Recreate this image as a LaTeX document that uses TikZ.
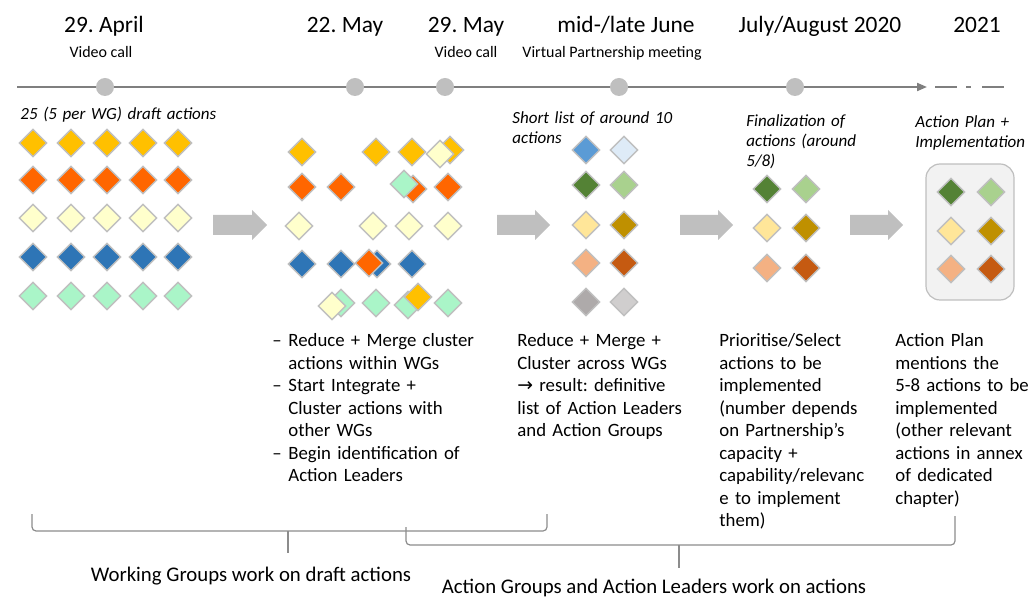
\documentclass[tikz,border=0pt]{standalone}
\usepackage{fontspec}
\setmainfont{Carlito}
\newfontfamily\symfont{DejaVu Sans}
\usetikzlibrary{shapes.geometric,arrows.meta}
\frenchspacing

\definecolor{cyel}{HTML}{FFC000}
\definecolor{corg}{HTML}{FF6600}
\definecolor{clyel}{HTML}{FFFFCC}
\definecolor{cblu}{HTML}{2E75B6}
\definecolor{clgrn}{HTML}{AAF5C8}
\definecolor{cmblu}{HTML}{5B9BD5}
\definecolor{cpblu}{HTML}{DEEBF7}
\definecolor{cdgrn}{HTML}{548235}
\definecolor{csgrn}{HTML}{A9D18E}
\definecolor{ccream}{HTML}{FFE699}
\definecolor{cgold}{HTML}{BF9000}
\definecolor{cpeach}{HTML}{F4B183}
\definecolor{crust}{HTML}{C55A11}
\definecolor{cdgry}{HTML}{AEAAAA}
\definecolor{clgry}{HTML}{D0CECE}
\definecolor{edgegray}{HTML}{BFBFBF}
\definecolor{linegray}{HTML}{7F7F7F}
\definecolor{bracegray}{HTML}{8C8C8C}
\definecolor{boxfill}{HTML}{F2F2F2}

\begin{document}
\begin{tikzpicture}[x=0.5pt, y=-0.5pt,
  act/.style={diamond, draw=edgegray, line width=0.7pt, inner sep=0pt, minimum size=14pt},
  dot/.style={circle, fill=edgegray, inner sep=0pt, minimum size=9pt},
  date/.style={anchor=base, inner sep=0pt, font=\fontsize{11.7}{14}\selectfont},
  sub/.style={anchor=base, inner sep=0pt, font=\fontsize{8}{10}\selectfont},
  head/.style={anchor=base west, inner sep=0pt, text width=70pt, align=left, font=\fontsize{8.5}{10}\selectfont\itshape},
  body/.style={anchor=base west, inner sep=0pt, text width=110pt, align=left, font=\fontsize{9.4}{11.25}\selectfont},
  foot/.style={anchor=base, inner sep=0pt, font=\fontsize{10.4}{12}\selectfont},
  bigarrow/.style={fill=edgegray},
  brace/.style={draw=bracegray, line width=0.6pt, rounded corners=2pt}]
  \useasboundingbox (0,0) rectangle (1033,598);

  % timeline
  \coordinate (tls) at (17,87);
  \coordinate (tle) at (927,87);
  \coordinate (dds) at (935,87);
  \coordinate (dde) at (1008,87);
  \draw[linegray, line width=1pt, -{Triangle[length=5pt, width=4pt]}] (tls) -- (tle);
  \draw[linegray, line width=1pt, dash pattern=on 11pt off 4.5pt on 2.5pt off 5.5pt] (dds) -- (dde);
  \node[dot] (t1) at (105,87) {};
  \node[dot] (t2) at (355,87) {};
  \node[dot] (t3) at (445,87) {};
  \node[dot] (t4) at (619,87) {};
  \node[dot] (t5) at (795,87) {};

  \node[date] (d1) at (104,33) {29. April};
  \node[date] (d2) at (345,33) {22. May};
  \node[date] (d3) at (466,33) {29. May};
  \node[date] (d4) at (626,33) {mid-/late June};
  \node[date] (d5) at (820,33) {July/August 2020};
  \node[date] (d6) at (977,33) {2021};
  \node[sub] (s1) at (101,58) {Video call};
  \node[sub] (s3) at (466,58) {Video call};
  \node[sub] (s4) at (612,58) {Virtual Partnership meeting};

  % stage labels
  \node[head, text width=120pt] (h1) at (20,120) {25 (5 per WG) draft actions};
  \node[head, text width=90pt] (h2) at (512,124) {Short list of around 10\\actions};
  \node[head] (h3) at (746,127) {Finalization of\\actions (around\\5/8)};
  \node[head] (h4) at (915,128) {Action Plan +\\Implementation};

  % draft actions
  \foreach \r/\y/\col in {1/143/cyel, 2/180/corg, 3/218/clyel, 4/257/cblu, 5/296/clgrn}
    \foreach \c/\x in {1/33, 2/71, 3/107, 4/143, 5/178}
      \node[act, fill=\col] (a\r\c) at (\x,\y) {};

  % reduced and merged
  \node[act, fill=cyel] (b11) at (302,152) {};
  \node[act, fill=cyel] (b12) at (376,152) {};
  \node[act, fill=cyel] (b13) at (412,152) {};
  \node[act, fill=cyel] (b14) at (450,150) {};
  \node[act, fill=clyel] (b15) at (440,154) {};
  \node[act, fill=corg] (b21) at (302,187) {};
  \node[act, fill=corg] (b22) at (341,187) {};
  \node[act, fill=corg] (b23) at (413,189) {};
  \node[act, fill=clgrn] (b24) at (404,184) {};
  \node[act, fill=corg] (b25) at (448,187) {};
  \node[act, fill=clyel] (b31) at (299,226) {};
  \node[act, fill=clyel] (b32) at (373,226) {};
  \node[act, fill=clyel] (b33) at (409,226) {};
  \node[act, fill=clyel] (b34) at (448,226) {};
  \node[act, fill=cblu] (b41) at (302,264) {};
  \node[act, fill=cblu] (b42) at (341,264) {};
  \node[act, fill=cblu] (b43) at (377,264) {};
  \node[act, fill=corg] (b44) at (369,263) {};
  \node[act, fill=cblu] (b45) at (412,264) {};
  \node[act, fill=clgrn] (b51) at (341,303) {};
  \node[act, fill=clyel] (b52) at (332,306) {};
  \node[act, fill=clgrn] (b53) at (376,303) {};
  \node[act, fill=clgrn] (b54) at (408,305) {};
  \node[act, fill=cyel] (b55) at (418,297) {};
  \node[act, fill=clgrn] (b56) at (448,303) {};

  % short list
  \node[act, fill=cmblu] (c11) at (586,150) {};
  \node[act, fill=cpblu] (c12) at (624,150) {};
  \node[act, fill=cdgrn] (c21) at (586,185) {};
  \node[act, fill=csgrn] (c22) at (624,185) {};
  \node[act, fill=ccream] (c31) at (586,225) {};
  \node[act, fill=cgold] (c32) at (624,225) {};
  \node[act, fill=cpeach] (c41) at (586,263) {};
  \node[act, fill=crust] (c42) at (624,263) {};
  \node[act, fill=cdgry] (c51) at (586,302) {};
  \node[act, fill=clgry] (c52) at (624,302) {};

  % finalization
  \node[act, fill=cdgrn] (f11) at (767,189) {};
  \node[act, fill=csgrn] (f12) at (806,189) {};
  \node[act, fill=ccream] (f21) at (767,228) {};
  \node[act, fill=cgold] (f22) at (806,228) {};
  \node[act, fill=cpeach] (f31) at (767,268) {};
  \node[act, fill=crust] (f32) at (806,268) {};

  % action plan
  \node[draw=edgegray, fill=boxfill, line width=0.6pt, rounded corners=7pt, minimum width=44pt, minimum height=68pt] (plan) at (970,232) {};
  \node[act, fill=cdgrn] (p11) at (951,192) {};
  \node[act, fill=csgrn] (p12) at (991,192) {};
  \node[act, fill=ccream] (p21) at (951,231) {};
  \node[act, fill=cgold] (p22) at (991,231) {};
  \node[act, fill=cpeach] (p31) at (951,269) {};
  \node[act, fill=crust] (p32) at (991,269) {};

  % block arrows
  \fill[bigarrow] (213,215) -- (252,215) -- (252,210) -- (267,225) -- (252,240) -- (252,235) -- (213,235) -- cycle;
  \fill[bigarrow] (497,215) -- (535,215) -- (535,210) -- (550,225) -- (535,240) -- (535,235) -- (497,235) -- cycle;
  \fill[bigarrow] (680,215) -- (718,215) -- (718,210) -- (733,225) -- (718,240) -- (718,235) -- (680,235) -- cycle;
  \fill[bigarrow] (850,215) -- (888,215) -- (888,210) -- (903,225) -- (888,240) -- (888,235) -- (850,235) -- cycle;

  % descriptions
  \node[body] (x1) at (272,347) {\makebox[8pt][l]{--}Reduce + Merge cluster\\
    \hspace*{8pt}actions within WGs\\
    \makebox[8pt][l]{--}Start Integrate +\\
    \hspace*{8pt}Cluster actions with\\
    \hspace*{8pt}other WGs\\
    \makebox[8pt][l]{--}Begin identification of\\
    \hspace*{8pt}Action Leaders};
  \node[body] (x2) at (517,347) {Reduce + Merge +\\Cluster across WGs\\{\symfont →} result: definitive\\list of Action Leaders\\and Action Groups};
  \node[body] (x3) at (719,347) {Prioritise/Select\\actions to be\\implemented\\(number depends\\on Partnership’s\\capacity +\\capability/relevanc\\e to implement\\them)};
  \node[body] (x4) at (895,347) {Action Plan\\mentions the\\5-8 actions to be\\implemented\\(other relevant\\actions in annex\\of dedicated\\chapter)};

  % braces
  \coordinate (bl1) at (32,514);
  \coordinate (br1) at (547,514);
  \coordinate (bm1) at (288,531);
  \coordinate (bt1) at (288,553);
  \draw[brace] (bl1) |- (bm1) -| (br1);
  \draw[brace] (bm1) -- (bt1);
  \coordinate (bl2) at (406,527);
  \coordinate (br2) at (955,516);
  \coordinate (bm2) at (679,545);
  \coordinate (bt2) at (679,568);
  \draw[brace] (bl2) |- (bm2) -| (br2);
  \draw[brace] (bm2) -- (bt2);
  \node[foot] (w1) at (251,581) {Working Groups work on draft actions};
  \node[foot] (w2) at (654,593) {Action Groups and Action Leaders work on actions};
\end{tikzpicture}
\end{document}
